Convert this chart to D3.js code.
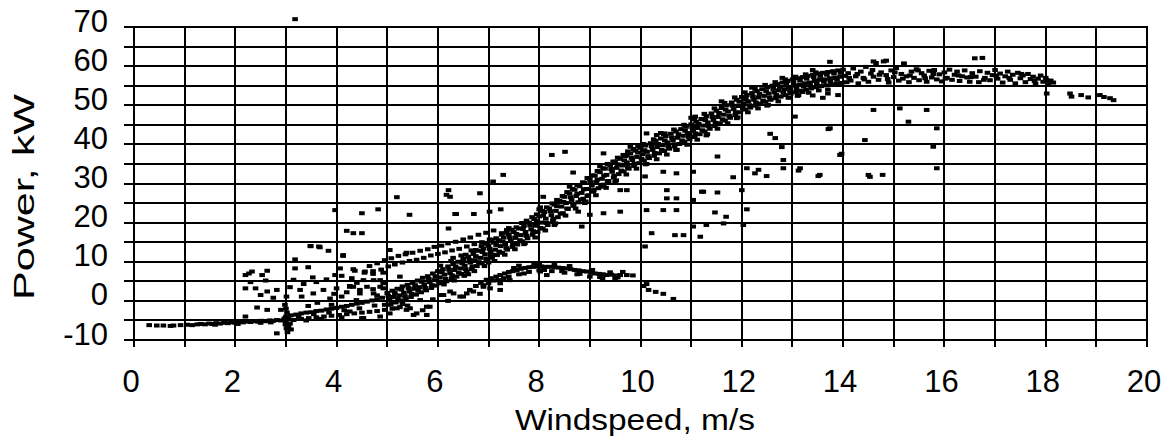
<!DOCTYPE html>
<html>
<head>
<meta charset="utf-8">
<script src="https://cdn.jsdelivr.net/npm/d3@7"></script>
<style>
html,body{margin:0;padding:0;background:#fff;}
svg text{font-family:"Liberation Sans",Arial,sans-serif;fill:#000;}
</style>
</head>
<body>
<svg id="chart" width="1172" height="442"></svg>
<script>
// ---- axis / tick data ----
const xGridValues = [0,1,2,3,4,5,6,7,8,9,10,11,12,13,14,15,16,17,18,19,20];
const yGridValues = [-10,-5,0,5,10,15,20,25,30,35,40,45,50,55,60,65,70];
const xTickLabels = [0,2,4,6,8,10,12,14,16,18,20];
const yTickLabels = [-10,0,10,20,30,40,50,60,70];
const xTitle = "Windspeed, m/s";
const yTitle = "Power, kW";

// ---- measured points [windspeed m/s, power kW] ----
const lowFlat = [[0.3,-6.2],[0.45,-6.3],[0.58,-6.3],[0.72,-6.4],[0.78,-6.3],[0.92,-6.2],[1.05,-6.1],[1.15,-6.2],[1.25,-6.0],[1.32,-5.9],[1.4,-6.0],[1.48,-5.8],[1.55,-5.9],[1.62,-5.7],[1.7,-5.8],[1.78,-5.6],[1.85,-5.7],[1.92,-5.5],[2.0,-5.6],[2.08,-5.4],[2.15,-5.5],[2.22,-5.3],[2.3,-5.4],[2.38,-5.2],[2.45,-5.3],[2.52,-5.1],[2.6,-5.2],[2.68,-5.0],[2.75,-5.1],[2.82,-4.9],[2.9,-5.0],[2.97,-4.8],[1.6,-6.1],[2.05,-5.9],[2.5,-5.6],[2.7,-5.5]];

const startBand = [[3.0,-4.0],[3.1,-3.7],[3.2,-3.5],[3.3,-3.2],[3.4,-3.0],[3.5,-2.9],[3.6,-2.6],[3.7,-2.5],[3.8,-2.2],[3.9,-2.0],[4.0,-1.8],[4.1,-1.5],[4.2,-1.3],[4.3,-1.0],[4.4,-0.7],[4.5,-0.5],[4.6,-0.2],[4.7,0.1],[4.8,0.4],[4.9,0.8],
[3.0,-5.2],[3.15,-4.9],[3.3,-4.6],[3.45,-4.4],[3.6,-4.2],[3.75,-4.0],[3.9,-3.8],[4.05,-3.6],[4.2,-3.4],[4.35,-3.2],[4.5,-3.0],[4.65,-2.8],[4.8,-2.6],[4.95,-2.3],[5.1,-2.0],[5.25,-1.6],[5.4,-1.2],
[3.05,-4.4],[3.25,-4.1],[3.55,-3.4],[3.85,-3.0],[4.15,-2.4],[4.45,-1.9],[4.75,-1.2],[3.4,-5.0],[3.7,-4.6],[4.1,-4.2],[4.5,-4.4],[4.86,-4.0],
[2.98,-1.0],[3.0,-2.0],[3.02,-3.0],[2.99,-6.0],[3.01,-7.0],[3.03,-8.0],[2.97,-4.5],[3.05,-6.5],[3.1,-7.3],[2.82,-8.3],[3.08,-5.8]];

const mainBand = [[5.0,2.0],[5.04,0.4],[5.07,-1.0],[5.1,2.6],[5.13,1.0],[5.17,-0.4],[5.2,3.1],[5.24,1.4],[5.27,0.1],[5.3,3.7],[5.33,2.1],[5.37,0.6],[5.4,4.1],[5.44,2.4],[5.47,1.0],[5.5,4.6],[5.53,3.1],[5.57,1.6],[5.6,5.2],[5.64,3.5],[5.67,2.2],[5.7,5.9],[5.73,4.2],[5.77,2.7],[5.8,6.3],[5.84,4.8],[5.87,3.3],[5.9,7.0],[5.93,5.3],[5.97,3.9],
[6.0,7.6],[6.04,6.0],[6.07,4.5],[6.1,8.1],[6.13,6.7],[6.17,5.0],[6.2,8.8],[6.24,7.1],[6.27,5.7],[6.3,9.4],[6.33,7.9],[6.37,6.2],[6.4,10.0],[6.44,8.3],[6.47,6.9],[6.5,10.7],[6.53,9.0],[6.57,7.5],[6.55,11.8],[6.6,11.3],[6.64,9.8],[6.67,8.1],[6.7,12.0],[6.73,10.4],[6.77,8.9],[6.75,13.0],[6.8,12.8],[6.84,11.0],[6.87,9.6],[6.9,13.4],[6.93,11.9],[6.97,10.2],[6.95,14.6],
[7.0,14.1],[7.04,12.5],[7.07,11.0],[7.1,14.9],[7.13,13.1],[7.17,11.7],[7.15,16.0],[7.2,15.5],[7.24,14.0],[7.27,12.3],[7.3,16.2],[7.33,14.5],[7.37,13.1],[7.35,17.4],[7.4,17.0],[7.44,15.3],[7.47,13.8],[7.5,17.6],[7.53,16.1],[7.57,14.4],[7.55,18.8],[7.6,18.5],[7.64,16.8],[7.67,15.2],[7.7,19.2],[7.73,17.6],[7.77,16.0],[7.75,20.5],[7.8,20.0],[7.84,18.3],[7.87,16.9],[7.9,20.9],[7.93,19.2],[7.97,17.6],[7.95,22.1],
[8.0,21.6],[8.04,20.0],[8.07,18.5],[8.1,22.7],[8.13,21.0],[8.17,19.4],[8.15,23.9],[8.2,23.6],[8.24,21.9],[8.27,20.5],[8.3,24.6],[8.33,23.0],[8.37,21.4],[8.35,25.8],[8.4,25.6],[8.44,24.1],[8.47,22.4],[8.5,26.6],[8.53,25.0],[8.57,23.5],[8.55,27.8],[8.6,27.5],[8.64,25.8],[8.67,24.3],[8.7,28.4],[8.73,26.8],[8.77,25.2],[8.75,29.6],[8.8,29.3],[8.84,27.6],[8.87,26.1],[8.9,30.2],[8.93,28.6],[8.97,27.0],[8.95,31.4],
[9.0,31.1],[9.04,29.5],[9.07,27.9],[9.1,32.0],[9.13,30.4],[9.17,28.8],[9.15,33.2],[9.2,32.9],[9.24,31.2],[9.27,29.7],[9.3,33.8],[9.33,32.2],[9.37,30.6],[9.35,35.0],[9.4,34.7],[9.44,33.0],[9.47,31.5],[9.5,35.6],[9.53,34.0],[9.57,32.4],[9.55,36.6],[9.6,36.3],[9.64,34.6],[9.67,33.1],[9.7,37.0],[9.73,35.4],[9.77,33.8],[9.75,38.2],[9.8,37.7],[9.84,36.0],[9.87,34.5],[9.9,38.4],[9.93,36.8],[9.97,35.2],[9.95,39.5],
[10.0,39.1],[10.04,37.5],[10.07,35.9],[10.1,39.7],[10.13,38.1],[10.17,36.5],[10.2,40.3],[10.24,38.6],[10.27,37.1],[10.3,40.9],[10.33,39.3],[10.37,37.7],[10.4,41.5],[10.44,39.8],[10.47,38.3],[10.5,42.1],[10.53,40.5],[10.57,38.9],[10.6,42.7],[10.64,41.0],[10.67,39.5],[10.7,43.3],[10.73,41.7],[10.77,40.1],[10.8,43.9],[10.84,42.2],[10.87,40.7],[10.9,44.5],[10.93,42.9],[10.97,41.3],
[11.0,45.1],[11.04,43.5],[11.07,41.9],[11.1,45.8],[11.13,44.2],[11.17,42.6],[11.2,46.5],[11.24,44.8],[11.27,43.3],[11.3,47.2],[11.33,45.6],[11.37,44.0],[11.4,47.9],[11.44,46.2],[11.47,44.7],[11.5,48.6],[11.53,47.0],[11.57,45.4],[11.6,49.3],[11.64,47.6],[11.67,46.1],[11.7,50.0],[11.73,48.4],[11.77,46.8],[11.8,50.7],[11.84,49.0],[11.87,47.5],[11.9,51.4],[11.93,49.8],[11.97,48.2],
[12.0,52.1],[12.04,50.5],[12.07,48.9],[12.1,52.6],[12.13,51.0],[12.17,49.4],[12.2,53.1],[12.24,51.4],[12.27,49.9],[12.3,53.6],[12.33,52.0],[12.37,50.4],[12.4,54.1],[12.44,52.4],[12.47,50.9],[12.5,54.6],[12.53,53.0],[12.57,51.4],[12.6,55.0],[12.64,53.3],[12.67,51.8],[12.7,55.4],[12.73,53.8],[12.77,52.2],[12.8,55.8],[12.84,54.1],[12.87,52.6],[12.9,56.2],[12.93,54.6],[12.97,53.0],
[13.0,56.6],[13.04,55.0],[13.07,53.4],[13.1,56.9],[13.14,55.2],[13.17,53.7],[13.2,57.2],[13.24,55.6],[13.27,54.0],[13.3,57.5],[13.34,55.8],[13.37,54.3],[13.4,57.8],[13.44,56.2],[13.47,54.6],[13.5,58.1],[13.54,56.5],[13.57,54.9],[13.6,58.3],[13.64,56.6],[13.67,55.1],[13.7,58.5],[13.74,56.9],[13.77,55.3],[13.8,58.7],[13.84,57.0],[13.87,55.5],[13.9,58.9],[13.94,57.3],[13.97,55.7],[14.0,59.1],[14.04,57.5],[14.07,55.9]];

const mainBandFill = [[5.02,1.3],[5.08,-0.2],[5.15,2.0],[5.21,0.6],[5.28,2.9],[5.35,1.2],[5.42,3.3],[5.48,1.8],[5.55,4.0],[5.61,2.6],[5.68,4.9],[5.75,3.3],[5.82,5.6],[5.88,4.0],[5.95,6.3],[6.02,4.9],[6.08,7.3],[6.15,5.6],[6.22,8.0],[6.28,6.5],[6.35,8.8],[6.41,7.2],[6.48,9.6],[6.55,8.1],[6.62,10.5],[6.68,8.8],[6.75,11.4],[6.81,9.9],[6.88,12.5],[6.95,10.8],[7.02,13.3],[7.08,11.8],[7.15,14.3],[7.21,12.6],[7.28,15.2],[7.35,13.5],[7.42,16.2],[7.48,14.6],[7.55,17.1],[7.62,15.5],[7.68,18.4],[7.75,16.6],[7.82,19.3],[7.88,17.8],[7.95,20.4],[8.02,18.6],[8.08,21.8],[8.15,19.9],[8.22,22.9],[8.28,21.0],[8.35,24.2],[8.42,22.3],[8.48,25.3],[8.55,23.6],[8.62,26.5],[8.68,24.6],[8.75,27.4],[8.82,25.9],[8.88,28.5],[8.95,26.8],[9.02,30.3],[9.08,28.4],[9.15,31.0],[9.22,29.2],[9.28,32.0],[9.35,30.6],[9.42,33.7],[9.48,32.0],[9.55,34.9],[9.62,33.3],[9.68,35.9],[9.75,34.2],[9.82,36.6],[9.88,35.0],[9.95,37.9],[10.02,36.3],[10.08,38.5],[10.15,37.0],[10.22,39.5],[10.28,37.8],[10.35,40.1],[10.42,38.6],[10.48,41.0],[10.55,39.4],[10.62,41.7],[10.68,40.0],[10.75,42.6],[10.82,41.0],[10.88,43.5],[10.95,41.9],[11.02,44.3],[11.08,42.8],[11.15,45.3],[11.22,43.6],[11.28,46.2],[11.35,44.6],[11.42,47.0],[11.48,45.5],[11.55,48.0],[11.62,46.4],[11.68,48.9],[11.75,47.3],[11.82,49.9],[11.88,48.2],[11.95,50.9],[12.02,49.3],[12.08,51.6],[12.15,50.0],[12.22,52.2],[12.28,50.7],[12.35,52.9],[12.42,51.2],[12.48,53.6],[12.55,52.0],[12.62,54.2],[12.68,52.6],[12.75,54.7],[12.82,53.2],[12.88,55.3],[12.95,53.7],[13.02,55.9],[13.08,54.3],[13.15,56.3],[13.22,54.8],[13.28,56.8],[13.35,55.1],[13.42,57.2],[13.48,55.6],[13.55,57.5],[13.62,56.0],[13.68,57.8],[13.75,56.2],[13.82,58.1],[13.88,56.5],[13.95,58.3],
[6.3,11.0],[6.6,6.8],[7.0,9.8],[7.4,18.6],[7.7,14.5],[8.0,23.4],[8.3,19.4],[8.6,29.2],[8.9,25.0],[9.2,34.4],[9.5,30.4],[9.8,39.4],[10.1,34.9],[10.4,42.9],[10.7,38.6],[11.0,46.8],[11.3,42.3],[11.6,51.0],[11.9,46.7],[12.2,54.5],[12.5,49.9],[12.8,57.0],[13.1,52.4],[13.4,59.0],[13.7,54.0]];

const mainBandEdge = [[6.05,9.0],[6.12,4.2],[6.26,10.2],[6.32,5.2],[6.46,11.6],[6.52,6.4],[6.66,12.9],[6.72,7.6],[6.86,14.0],[6.92,8.9],[7.06,15.6],[7.12,10.2],[7.26,16.9],[7.32,11.8],[7.46,18.2],[7.52,13.2],[7.66,19.9],[7.72,14.8],[7.86,21.4],[7.92,16.2],[8.06,23.0],[8.12,18.0],[8.26,24.9],[8.32,19.8],[8.46,26.8],[8.52,21.8],[8.66,28.6],[8.72,23.6],[8.86,30.3],[8.92,25.4],[9.06,32.1],[9.12,27.0],[9.26,33.9],[9.32,28.9],[9.46,35.6],[9.52,30.8],[9.66,37.3],[9.72,32.3],[9.86,38.8],[9.92,33.8],[10.06,40.1],[10.12,35.0],[10.26,41.3],[10.32,36.2],[10.46,42.6],[10.52,37.4],[10.66,43.8],[10.72,38.6],[10.86,45.0],[10.92,39.9],[11.06,46.4],[11.12,41.2],[11.26,47.8],[11.32,42.6],[11.46,49.2],[11.52,44.0],[11.66,50.6],[11.72,45.4],[11.86,52.0],[11.92,46.9],[12.06,53.3],[12.12,48.2],[12.26,54.2],[12.32,49.2],[12.46,55.2],[12.52,50.1],[12.66,55.9],[12.72,51.0],[12.86,56.6],[12.92,51.9],[13.06,57.3],[13.12,52.6],[13.26,57.9],[13.32,53.2],[13.46,58.4],[13.52,53.8]];

const upperBand = [[4.55,7.2],[4.65,8.9],[4.72,7.6],[4.8,9.6],[4.88,8.0],[4.95,10.4],[5.02,8.8],[5.08,10.9],[5.15,9.3],[5.22,11.5],[5.3,9.8],[5.36,11.9],[5.44,10.2],[5.5,12.3],[5.58,10.5],[5.65,12.8],[5.72,11.0],[5.8,13.2],[5.86,11.6],[5.93,13.8],[6.0,12.0],[6.07,14.1],[6.14,12.4],[6.2,14.7],[6.28,12.9],[6.35,15.1],[6.42,13.3],[6.5,15.7],[6.57,13.9],[6.64,16.2],[6.72,14.5],[6.8,16.9],[6.87,15.0],[6.95,17.4],[7.02,15.7],[7.1,18.0]];

const underBand = [[4.26,3.6],[4.46,1.9],[4.73,1.9],[4.86,3.6],[5.19,-1.9],[5.38,-2.3],[5.58,-3.2],[5.84,-1.5],[5.78,-3.6],[6.11,1.5],[6.31,1.9],[6.5,1.1],[6.63,2.8],[4.53,-4.4],[4.26,-2.7],[5.45,-1.9],[5.65,0.2],[6.04,1.5],[6.24,2.4],[6.44,1.1],[6.57,1.9],[5.52,-3.6],[5.78,-1.5],[5.3,-0.8],[5.9,0.4],[6.2,0.0],[6.9,3.6],[6.83,1.8],[5.05,-3.2],[5.7,-2.4],[4.95,-1.0]];

const lowerHump = [[6.75,3.8],[6.85,4.6],[6.96,5.4],[7.05,5.8],[7.15,6.2],[7.23,6.6],[7.32,7.0],[7.4,7.4],[7.48,7.6],[7.56,7.9],[7.64,8.2],[7.72,8.4],[7.8,8.6],[7.88,8.7],[7.96,8.8],[8.04,8.8],[8.12,8.7],[8.21,8.7],[8.3,8.6],[8.38,8.5],[8.46,8.4],[8.54,8.3],[8.62,8.1],[8.7,7.9],[8.78,7.8],[8.86,7.6],[8.94,7.5],[9.02,7.2],[9.1,7.0],[9.18,6.9],[9.26,6.8],[9.33,6.6],[9.42,6.7],[9.5,6.5],[9.6,6.6],[9.73,6.6],
[7.0,4.5],[7.2,5.3],[7.4,6.2],[7.6,6.8],[7.8,7.4],[8.0,7.8],[8.25,7.6],[8.5,7.2],[8.75,6.8],[9.0,6.2],[9.25,5.8],[9.5,5.6],
[7.03,3.2],[7.23,2.8],[7.42,5.3],[8.15,6.6],[8.02,7.5],[7.23,4.5],
[6.7,2.4],[6.9,4.0],[7.1,5.2],[7.3,5.8],[7.5,8.4],[7.7,7.0],[7.9,9.4],[8.1,7.9],[8.3,9.3],[8.45,7.6],[8.6,8.9],[8.8,6.9],[9.05,7.9],[9.2,6.1],[9.4,7.3],[9.55,6.0],[9.65,7.4],[9.85,6.5],[7.6,9.0],[8.0,9.5],
[10.06,3.8],[10.16,2.8],[10.3,2.3],[10.45,1.8],[10.65,0.5],[10.12,4.3]];

const plateau = [[14.1,58.2],[14.15,56.3],[14.2,59.4],[14.25,57.4],[14.3,55.6],[14.35,58.6],[14.4,57.0],[14.45,59.8],[14.5,56.0],[14.55,58.1],[14.6,57.3],[14.65,60.8],[14.7,56.5],[14.75,58.4],[14.8,61.2],[14.85,57.7],[14.9,55.8],[14.95,58.9],[15.0,57.2],[15.05,59.5],[15.1,56.3],[15.15,58.0],[15.2,60.7],[15.25,57.4],[15.3,55.9],[15.35,58.6],[15.4,57.0],[15.45,59.2],[15.5,56.4],[15.55,58.2],[15.6,57.6],[15.65,56.0],[15.7,58.8],[15.75,57.1],[15.8,59.0],[15.85,56.6],[15.9,57.9],[15.95,56.1],[16.0,58.4],[16.05,57.0],[16.1,59.1],[16.15,56.5],[16.2,57.8],[16.25,58.6],[16.3,56.2],[16.35,57.4],[16.4,58.9],[16.45,57.1],[16.5,56.0],[16.55,58.2],[16.6,62.0],[16.62,57.3],[16.68,55.9],[16.7,58.7],[16.75,62.1],[16.8,57.0],[16.85,58.3],[16.9,56.4],[16.95,57.7],[17.0,59.0],[17.05,56.8],[17.1,58.1],[17.15,55.8],[17.2,57.4],[17.25,58.6],[17.3,56.5],[17.35,57.8],[17.4,55.6],[17.45,58.3],[17.5,56.9],[17.55,57.6],[17.6,55.9],[17.65,58.0],[17.7,56.7],[17.75,57.3],[17.8,55.5],[17.85,56.8],[17.9,57.6],[17.95,56.0],[18.0,57.0],[18.05,55.4],[18.1,56.3],[18.15,55.8],
[14.12,57.0],[14.28,58.0],[14.42,56.6],[14.58,59.0],[14.72,57.8],[14.88,56.7],[15.02,58.4],[15.18,56.8],[15.32,57.6],[15.48,58.9],[15.62,56.9],[15.78,58.0],[16.02,56.8],[16.28,57.6],[16.52,57.2],[16.78,56.5],[17.02,57.6],[17.28,57.0],[17.52,58.0],[17.78,56.2],[18.02,56.4],
[13.2,53.4],[13.4,52.5],[13.6,51.9],[13.7,53.0],[13.9,52.6],[14.6,61.2],[14.85,61.4],[13.74,61.1],[15.2,60.5],
[18.02,53.0],[18.48,53.0],[18.51,52.2],[18.84,52.0],[19.07,52.6],[19.27,51.8],[19.34,51.3],[18.7,52.6],[19.15,52.1]];

const scatter = [[3.18,72.0],
[3.97,23.2],[4.5,22.4],[4.82,23.4],[4.2,17.9],[4.33,17.3],[4.5,17.3],[3.48,14.0],[3.67,13.7],[3.84,12.8],[4.13,11.5],[3.18,10.6],[3.18,8.3],[3.44,8.6],[3.53,6.0],[4.07,8.3],[4.36,7.7],[4.56,7.5],[4.72,6.9],[4.1,6.4],[4.3,5.8],[4.53,5.3],[4.86,5.3],[4.26,3.8],[4.46,2.8],[4.72,3.0],[4.92,3.2],[4.0,3.2],[4.1,1.1],[3.74,2.8],[3.87,0.6],[3.28,2.8],[3.31,1.1],[3.54,1.9],[4.39,0.2],[3.08,3.5],[3.01,1.1],[3.44,-1.3],[2.63,-2.3],[2.43,-1.7],[2.2,-4.0],[2.82,2.8],[2.63,2.4],[2.5,1.5],[2.4,3.2],[2.2,3.2],[2.33,7.5],[2.63,7.7],[2.53,6.6],[2.2,6.6],[2.27,7.0],[2.9,-2.3],[3.49,14.0],[3.65,13.9],
[2.3,4.8],[2.6,5.2],[2.75,0.8],[3.15,5.4],[3.35,4.3],[3.6,4.8],[3.8,5.5],[3.95,1.8],[4.2,2.2],[4.4,4.6],[4.6,3.6],[4.8,1.4],[3.62,-0.5],[3.9,-1.0],
[5.19,26.5],[6.17,27.1],[6.21,28.3],[6.83,27.5],[5.44,22.0],[6.36,22.2],[6.71,22.2],[7.02,22.8],[7.24,23.4],[6.21,18.5],[7.26,17.3],[7.36,18.1],[4.13,11.7],[5.38,12.3],[5.05,13.0],[4.33,8.1],[4.92,7.2],[5.25,6.2],[3.97,6.6],[4.33,3.6],[4.73,5.3],[4.92,4.5],[6.24,26.6],[7.29,32.2],[7.09,30.5],[6.34,22.2],
[8.25,37.3],[8.51,38.1],[9.27,37.7],[8.67,32.8],[8.08,26.6],[8.02,23.9],[8.77,22.8],[9.6,28.3],[9.73,28.3],[10.52,28.3],[11.21,27.9],[10.52,26.2],[10.71,26.2],[11.04,25.8],[10.45,33.0],[11.04,33.0],[10.71,32.6],[10.09,31.8],[9.6,22.8],[10.12,23.2],[10.45,23.2],[10.71,23.2],[9.27,22.4],[9.0,22.0],[8.84,19.0],[10.22,17.3],[10.68,16.8],[10.85,16.8],[11.18,16.4],[10.09,13.9],[11.04,19.0],[10.12,42.8],[10.32,42.4],[10.48,42.8],[9.73,37.3],[11.08,47.1],
[13.05,47.1],[13.71,43.9],[13.97,37.6],[14.43,41.1],[14.6,48.8],[12.56,42.7],[12.66,41.6],[12.79,39.3],[11.52,36.9],[12.1,33.9],[12.33,33.5],[12.26,32.6],[11.83,31.6],[12.49,31.9],[12.82,33.9],[13.12,33.3],[13.51,31.9],[14.53,31.7],[14.78,32.2],[11.24,27.9],[11.52,27.7],[12.0,28.3],[11.47,22.6],[11.69,21.5],[12.1,23.4],[11.3,19.4],[11.64,19.8],[12.03,19.4],
[13.74,44.1],[15.12,49.2],[15.29,45.8],[15.65,48.8],[13.94,37.3],[13.54,32.2],[14.5,32.2],[15.85,33.9],[15.78,39.4],[15.85,44.1],[12.82,36.0],[13.15,33.9]];

// ---- drawing ----
const svg = d3.select("#chart");
const x = d3.scaleLinear().domain([0, 20]).range([134, 1147]);
const y = d3.scaleLinear().domain([-10, 70]).range([340, 27]);
const rx = v => Math.round(x(v));
const ry = v => Math.round(y(v));

const grid = svg.append("g").attr("stroke", "#000").attr("stroke-width", 2);
grid.selectAll("line.v").data(xGridValues).join("line")
  .attr("class", "v")
  .attr("x1", d => rx(d)).attr("x2", d => rx(d))
  .attr("y1", ry(70) - 1).attr("y2", ry(-10) + 7);
grid.selectAll("line.h").data(yGridValues).join("line")
  .attr("class", "h")
  .attr("x1", rx(0) - 10).attr("x2", rx(20) + 1)
  .attr("y1", d => ry(d)).attr("y2", d => ry(d));

const allPts = [].concat(lowFlat, startBand, mainBand, mainBandFill, mainBandEdge, upperBand, underBand, lowerHump, plateau, scatter);
svg.append("g").selectAll("rect").data(allPts).join("rect")
  .attr("x", d => x(d[0]) - 2.8)
  .attr("y", d => y(d[1]) - 2)
  .attr("width", 5.6).attr("height", 4)
  .attr("fill", "#000");

svg.append("g").selectAll("text").data(yTickLabels).join("text")
  .attr("x", 108).attr("y", d => y(d) - 6)
  .attr("text-anchor", "end").attr("dominant-baseline", "central")
  .attr("font-size", 31)
  .text(d => d);

svg.append("g").selectAll("text").data(xTickLabels).join("text")
  .attr("x", d => x(d) - 3).attr("y", 392)
  .attr("text-anchor", "middle")
  .attr("font-size", 31)
  .text(d => d);

svg.append("text")
  .attr("x", 635).attr("y", 430)
  .attr("text-anchor", "middle")
  .attr("font-size", 30)
  .attr("textLength", 240).attr("lengthAdjust", "spacingAndGlyphs")
  .text(xTitle);

svg.append("text")
  .attr("transform", "translate(34,197) rotate(-90)")
  .attr("text-anchor", "middle")
  .attr("font-size", 30)
  .attr("textLength", 206).attr("lengthAdjust", "spacingAndGlyphs")
  .text(yTitle);
</script>
</body>
</html>
